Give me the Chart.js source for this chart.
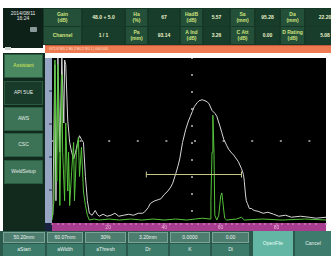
<!DOCTYPE html>
<html>
<head>
<meta charset="utf-8">
<script src="https://cdn.jsdelivr.net/npm/chart.js@4"></script>
<style>
body{margin:0;width:331px;height:256px;overflow:hidden;background:#fff;font-family:"Liberation Sans",Arial,sans-serif;position:relative}
.abs{position:absolute;box-sizing:border-box}
.c{display:flex;align-items:center;justify-content:center;text-align:center;line-height:1.05}
</style>
</head>
<body>
<script>
// waveform values (x = % of screen width, y = % height)
var whitePts = [[0.3,4.7],[1.0,95.9],[1.4,13.5],[2.1,100],[2.8,42.9],[3.5,100],[4.2,60.6],[4.5,98.8],[4.9,95.9],[5.6,62.4],[6.3,48.8],[7.0,42.9],[7.7,38.8],[8.4,42.9],[9.1,48.8],[9.8,52.9],[10.5,50.6],[11.2,48.8],[11.9,28.2],[12.6,13.5],[13.3,5.9],[14.3,4.7],[15.4,7.6],[16.1,5.3],[16.8,4.1],[18.2,5.3],[19.6,4.1],[21.0,4.7],[22.4,5.9],[23.8,4.1],[25.5,4.7],[27.3,5.3],[29.0,4.7],[30.8,5.9],[32.2,5.9],[32.9,6.5],[34.3,9.4],[35.0,11.8],[36.0,12.9],[36.7,13.5],[37.8,14.1],[38.8,14.7],[39.9,17.1],[41.3,19.4],[42.3,21.8],[43.0,24.1],[44.1,30.0],[44.8,34.1],[45.5,38.8],[46.5,48.8],[47.6,56.5],[48.6,61.8],[49.3,64.7],[50.0,67.6],[50.7,70.6],[51.7,72.9],[52.4,74.1],[53.5,74.7],[54.5,74.1],[55.2,73.5],[55.9,72.4],[57.0,68.2],[58.0,66.5],[58.7,64.7],[59.8,58.8],[60.5,54.7],[61.2,50.6],[62.2,47.1],[62.9,44.7],[64.0,42.4],[64.7,41.2],[65.7,38.8],[66.4,37.1],[67.5,32.9],[68.2,29.4],[68.5,25.3],[68.9,17.6],[69.2,13.5],[69.6,11.8],[70.3,8.8],[71.0,8.8],[72.0,7.6],[73.4,7.1],[75.2,5.9],[76.9,6.5],[79.0,5.3],[80.8,4.1],[83.2,4.7],[85.3,3.5],[88.5,4.1],[91.6,3.5],[94.1,2.9],[97.6,3.5]];
var greenPts = [[0,1.8],[0.7,13.5],[1.05,98.8],[1.7,25.3],[2.1,95.9],[2.8,10.6],[3.5,90],[3.8,42.9],[4.5,13.5],[4.9,60.6],[5.6,19.4],[5.9,42.9],[6.3,10.6],[7.0,31.2],[7.7,48.8],[8.0,13.5],[8.7,42.9],[9.4,51.8],[9.8,28.2],[10.5,45.9],[11.2,19.4],[11.9,10.6],[12.6,4.7],[13.3,1.8],[15.0,2.4],[16.8,1.8],[20.3,2.4],[24,1.8],[28,2.4],[32,1.8],[36,2.4],[40,1.8],[44,2.4],[48,1.8],[51,2.4],[53.5,2.9],[56.3,2.4],[56.6,13.5],[57.0,42.9],[57.3,65.3],[57.7,42.9],[58.0,4.7],[58.7,1.8],[59.4,4.7],[60.1,16.5],[60.5,18.2],[60.8,13.5],[61.5,2.9],[62.2,1.8],[65.7,2.4],[67.5,3.5],[68.5,1.8],[75,2.4],[82,1.8],[90,2.4],[97.6,1.8]];
var gatePts = [[33.6,29.4],[67.5,29.4]];
var xLabels = {20:'20',40:'40',60:'60',80:'80'};

var headRow1 = [['Gain','(dB)'],'48.0 + 5.0',['Ha','(%)'],'67',['HadB','(dB)'],'5.57',['Sa','(mm)'],'95.28',['Da','(mm)'],'22.20'];
var headRow2 = ['Channel','1 / 1',['Pa','(mm)'],'93.14',['A Ind','(dB)'],'3.26',['C Att','(dB)'],'0.00',['D Rating','(dB)'],'5.08'];
var headCols = [43,82,125,148,180,203,230,255,280,305,345];
var sideBtns = ['Assistant','API 5UE','AWS','CSC','WeldSetup'];
var sideTops = [54,81,107,133,160];
var botValues = ['50.20mm','60.07mm','30%','3.20mm','0.0000','0.00'];
var botLabels = ['aStart','aWidth','aThresh','Dr','K','Di'];
var botCols = [3,47,85,128,170,212,251];

var html = '';
function box(l,t,w,h,bg,extra,txt){
  html += '<div class="abs c" style="left:'+l+'px;top:'+t+'px;width:'+w+'px;height:'+h+'px;background:'+bg+';'+(extra||'')+'">'+(txt||'')+'</div>';
}
// top-left clock box
box(3,8,40,40,'#0e2118','color:#e8e8e8;font-size:5px;align-items:flex-start;padding-top:3px','2014/08/11<br>16:24');
box(30,27,7,5,'#8a9a9a','border-radius:1px');
box(5,47,6,3,'#cfd6d2','');
// header table
box(43,8,288,37,'#163826','');
[headRow1,headRow2].forEach(function(row,r){
  row.forEach(function(v,i){
    var l = headCols[i], w = headCols[i+1]-headCols[i];
    var isLab = i%2==0;
    var txt = Array.isArray(v) ? v[0]+'<br>'+v[1] : v;
    box(l+1,9+r*18,w-2,17,isLab?'#24503a':'#183e2b','color:'+(isLab?'#cfe27a':'#e9efc8')+';font-size:5px;font-weight:bold',txt);
  });
});
// orange status bar
box(45,45,286,8,'#ee7a52','justify-content:flex-start;padding-left:4px;color:#ffe2cc;font-size:3.5px;border-top:1px solid #c05a3a','G71.8 W0.2 B0.2 B0.2 R0.1 | 000.000');
// sidebar
box(3,53,42,178,'#12291d','');
sideBtns.forEach(function(s,i){
  var act = i==0, dark = i==1;
  box(4,sideTops[i],39,24,act?'#4a8862':(dark?'#183a29':'#3c7357'),'color:'+(act?'#d8e85a':'#e4ece6')+';font-size:5px;border:1px solid #2a5a40',s);
});
// bottom bar
box(0,231,331,25,'#2b5a4c','');
botValues.forEach(function(v,i){
  var l = botCols[i], w = botCols[i+1]-botCols[i]-2;
  box(l,232,w,11,'#4d7d6e','color:#eef2ee;font-size:5px;border:1px solid #7aa596',v);
  box(l,244,w,12,'#3c7b6a','color:#e8f0ec;font-size:5px',botLabels[i]);
});
box(253,231,40,25,'#63b6a3','color:#e8fff8;font-size:5px','OpenFile');
box(295,231,36,25,'#3d7c6c','color:#e8f0ec;font-size:5px','Cancel');
html += '<div class="abs" style="left:45px;top:53px;width:286px;height:178px"><canvas id="scope" width="286" height="178"></canvas></div>';
document.write(html);

var panels = {
  id:'panels',
  beforeDraw:function(chart){
    var c = chart.ctx, a = chart.chartArea, y = chart.scales.y, x = chart.scales.x;
    c.save();
    c.fillStyle = '#000'; c.fillRect(a.left,a.top,a.right-a.left,a.bottom-a.top);
    c.fillStyle = '#96a5c2'; c.fillRect(y.left,y.top,y.right-y.left,y.bottom-y.top+8);
    c.fillStyle = '#1a2040'; c.fillRect(y.left,x.top,y.right-y.left,x.bottom-x.top);
    c.fillStyle = '#a83c8e'; c.fillRect(x.left,x.top,x.right-x.left,x.bottom-x.top);
    c.restore();
  }
};

function pts(a){ return a.map(function(p){ return {x:p[0],y:p[1]}; }); }

new Chart(document.getElementById('scope'), {
  type:'line',
  data:{datasets:[
    {data:pts(gatePts),borderColor:'#c9c98a',borderWidth:1,pointStyle:'line',pointRotation:90,pointRadius:3,pointBorderColor:'#c9c98a',pointBorderWidth:1,order:0},
    {data:pts(greenPts),borderColor:'#55c43a',borderWidth:1,pointRadius:0,order:1},
    {data:pts(whitePts),borderColor:'#d6d6d6',borderWidth:1,pointRadius:0,order:2}
  ]},
  options:{
    responsive:false, animation:false, devicePixelRatio:1,
    layout:{padding:0},
    plugins:{legend:{display:false},tooltip:{enabled:false}},
    scales:{
      x:{type:'linear',min:0,max:97.6,
        afterFit:function(s){ s.height = 8; },
        ticks:{stepSize:2,autoSkip:false,maxRotation:0,padding:0,color:'#f2b8e4',font:{size:5,family:'Liberation Sans'},
          callback:function(v){ return xLabels[v] || ''; }},
        grid:{color:function(c){ return c.tick && c.tick.value===50 ? '#8c8c8c' : 'rgba(0,0,0,0)'; },lineWidth:2,
          tickLength:2,tickColor:'#e090d0',tickWidth:1},
        border:{display:false,dash:[2,15],dashOffset:-16}
      },
      y:{min:0,max:100,
        afterFit:function(s){ s.width = 7; },
        ticks:{display:false,stepSize:10},
        grid:{color:function(c){ return c.tick && c.tick.value===50 ? '#8c8c8c' : 'rgba(0,0,0,0)'; },lineWidth:2,
          tickLength:3,tickColor:function(c){ return c.tick && c.tick.value%20===0 && c.tick.value>0 && c.tick.value<100 ? '#5b6a8a' : 'rgba(0,0,0,0)'; }},
        border:{display:false,dash:[2,26.6],dashOffset:1}
      }
    }
  },
  plugins:[panels]
});
</script>
</body>
</html>
